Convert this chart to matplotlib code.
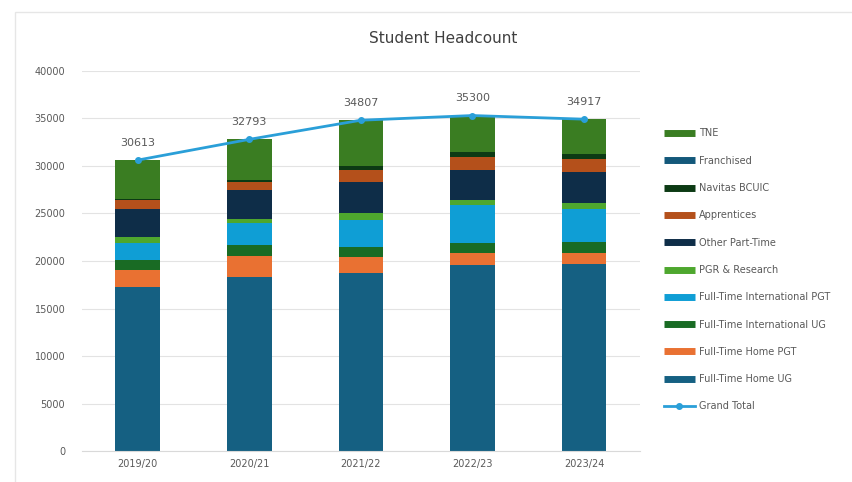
import matplotlib
matplotlib.use("Agg")
import matplotlib.pyplot as plt
from matplotlib.lines import Line2D
from matplotlib.patches import Rectangle
import numpy as np

# ---------------- data ----------------
years = ["2019/20", "2020/21", "2021/22", "2022/23", "2023/24"]

home_ug = [17300, 18350, 18700, 19580, 19680]
home_pgt = [1750, 2200, 1750, 1250, 1200]
intl_ug = [1050, 1100, 1000, 1050, 1100]
intl_pgt = [1750, 2300, 2850, 4000, 3500]
pgr = [700, 500, 700, 500, 600]
other_pt = [2950, 3000, 3350, 3200, 3300]
apprentices = [900, 850, 1200, 1400, 1400]
navitas = [150, 250, 400, 500, 500]
franchised = [0, 0, 0, 0, 0]
tne = [4063, 4243, 4857, 3820, 3637]

grand_total = [30613, 32793, 34807, 35300, 34917]

series = [
    ("Full-Time Home UG", home_ug, "#156082"),
    ("Full-Time Home PGT", home_pgt, "#E97132"),
    ("Full-Time International UG", intl_ug, "#196B24"),
    ("Full-Time International PGT", intl_pgt, "#0F9ED5"),
    ("PGR & Research", pgr, "#4EA72E"),
    ("Other Part-Time", other_pt, "#0E2D48"),
    ("Apprentices", apprentices, "#B4501B"),
    ("Navitas BCUIC", navitas, "#0C3A14"),
    ("Franchised", franchised, "#13587A"),
    ("TNE", tne, "#3A7D22"),
]
line_col = "#2A9FD8"
txt_col = "#595959"

# ---------------- figure ----------------
fig = plt.figure(figsize=(8.53, 4.82), dpi=100)
fig.patches.append(Rectangle((0.018, -0.01), 1.0, 0.985, transform=fig.transFigure,
                             fill=False, edgecolor="#e6e6e6", lw=1))
ax = fig.add_axes([0.096, 0.064, 0.654, 0.789])

x = np.arange(len(years))
bottom = np.zeros(len(years))
for name, vals, col in series:
    ax.bar(x, vals, 0.4, bottom=bottom, color=col, zorder=2)
    bottom += np.array(vals)

ax.plot(x, grand_total, color=line_col, lw=2, marker="o", ms=4, zorder=3)
for xi, v in zip(x, grand_total):
    ax.text(xi, v + 1300, str(v), ha="center", va="bottom", fontsize=8, color=txt_col)

ax.set_xlim(-0.5, 4.5)
ax.set_ylim(0, 40000)
ax.set_yticks(np.arange(0, 40001, 5000))
ax.set_xticks(x)
ax.set_xticklabels(years)
ax.tick_params(axis="both", length=0, labelsize=7, colors=txt_col)
ax.tick_params(axis="x", pad=6)
ax.tick_params(axis="y", pad=12)
ax.grid(axis="y", color="#e3e3e3", lw=0.8, zorder=0)
for s in ["top", "right", "left"]:
    ax.spines[s].set_visible(False)
ax.spines["bottom"].set_color("#d9d9d9")

fig.text(0.52, 0.92, "Student Headcount", ha="center", va="center",
         fontsize=11, color="#404040")

# legend, TNE on top as in the reference
handles = []
for name, vals, col in reversed(series):
    handles.append(Line2D([], [], color=col, lw=5, solid_capstyle="butt", label=name))
handles.append(Line2D([], [], color=line_col, lw=2, marker="o", ms=4, label="Grand Total"))
leg = fig.legend(handles=handles, loc="center left", bbox_to_anchor=(0.768, 0.44),
                 frameon=False, fontsize=7, labelspacing=1.78, handlelength=3.2,
                 handletextpad=0.4)
for t in leg.get_texts():
    t.set_color(txt_col)

fig.savefig("out.png", dpi=100)
